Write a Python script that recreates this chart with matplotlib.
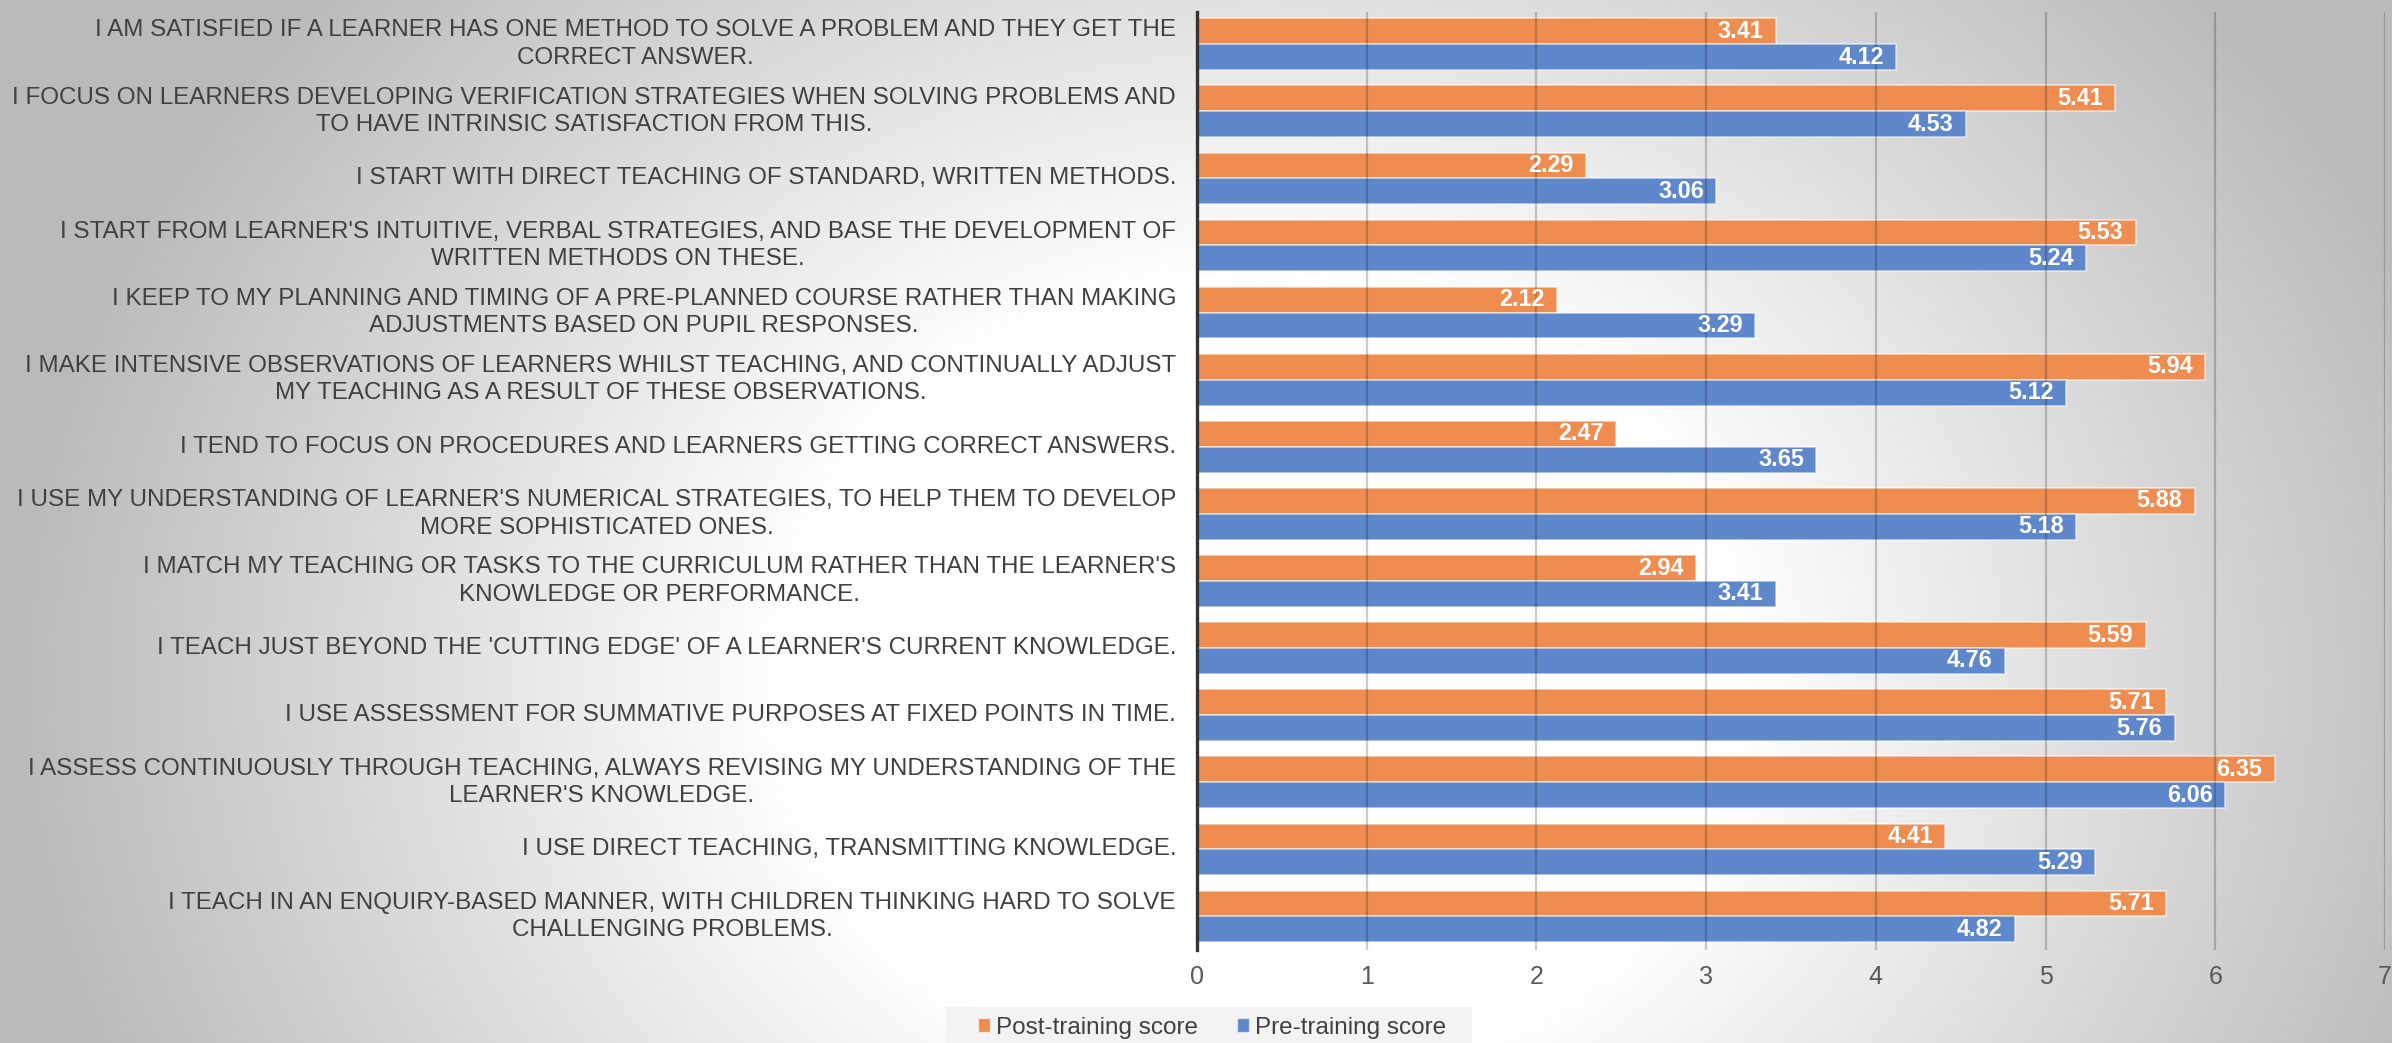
import matplotlib
matplotlib.use("Agg")
import matplotlib.pyplot as plt
import numpy as np
from matplotlib.patches import Patch, Rectangle
from matplotlib.transforms import blended_transform_factory

categories = [
    "I AM SATISFIED IF A LEARNER HAS ONE METHOD TO SOLVE A PROBLEM AND THEY GET THE\nCORRECT ANSWER.",
    "I FOCUS ON LEARNERS DEVELOPING VERIFICATION STRATEGIES WHEN SOLVING PROBLEMS AND\nTO HAVE INTRINSIC SATISFACTION FROM THIS.",
    "I START WITH DIRECT TEACHING OF STANDARD, WRITTEN METHODS.",
    "I START FROM LEARNER'S INTUITIVE, VERBAL STRATEGIES, AND BASE THE DEVELOPMENT OF\nWRITTEN METHODS ON THESE.",
    "I KEEP TO MY PLANNING AND TIMING OF A PRE-PLANNED COURSE RATHER THAN MAKING\nADJUSTMENTS BASED ON PUPIL RESPONSES.",
    "I MAKE INTENSIVE OBSERVATIONS OF LEARNERS WHILST TEACHING, AND CONTINUALLY ADJUST\nMY TEACHING AS A RESULT OF THESE OBSERVATIONS.",
    "I TEND TO FOCUS ON PROCEDURES AND LEARNERS GETTING CORRECT ANSWERS.",
    "I USE MY UNDERSTANDING OF LEARNER'S NUMERICAL STRATEGIES, TO HELP THEM TO DEVELOP\nMORE SOPHISTICATED ONES.",
    "I MATCH MY TEACHING OR TASKS TO THE CURRICULUM RATHER THAN THE LEARNER'S\nKNOWLEDGE OR PERFORMANCE.",
    "I TEACH JUST BEYOND THE 'CUTTING EDGE' OF A LEARNER'S CURRENT KNOWLEDGE.",
    "I USE ASSESSMENT FOR SUMMATIVE PURPOSES AT FIXED POINTS IN TIME.",
    "I ASSESS CONTINUOUSLY THROUGH TEACHING, ALWAYS REVISING MY UNDERSTANDING OF THE\nLEARNER'S KNOWLEDGE.",
    "I USE DIRECT TEACHING, TRANSMITTING KNOWLEDGE.",
    "I TEACH IN AN ENQUIRY-BASED MANNER, WITH CHILDREN THINKING HARD TO SOLVE\nCHALLENGING PROBLEMS.",
]
post_training = [3.41, 5.41, 2.29, 5.53, 2.12, 5.94, 2.47, 5.88, 2.94, 5.59, 5.71, 6.35, 4.41, 5.71]
pre_training = [4.12, 4.53, 3.06, 5.24, 3.29, 5.12, 3.65, 5.18, 3.41, 4.76, 5.76, 6.06, 5.29, 4.82]
series_names = ["Post-training score", "Pre-training score"]
x_ticks = [0, 1, 2, 3, 4, 5, 6, 7]

plt.rcParams['font.family'] = ['Liberation Sans', 'DejaVu Sans']

W, H = 2392, 1043
fig = plt.figure(figsize=(W / 100, H / 100), dpi=100)

# radial gradient background
bg = fig.add_axes([0, 0, 1, 1], zorder=-10)
yy, xx = np.mgrid[0:H, 0:W]
cx, cy = 1260, 680
t = np.sqrt(((xx - cx) / 1250.0) ** 2 + ((yy - cy) / 1050.0) ** 2)
r = np.clip((t - 0.38) / 0.62, 0, 1)
val = 1.0 - 0.27 * r
img = np.dstack([val, val, val])
bg.imshow(img, extent=[0, 1, 0, 1], aspect='auto', origin='upper')
bg.set_axis_off()
# legend background box
bg.add_patch(Rectangle((946 / W, 0), (1472 - 946) / W, (1043 - 1007) / H,
                       transform=bg.transAxes, facecolor='#F2F2F2', alpha=0.85,
                       edgecolor='none', zorder=2))

ax = fig.add_axes([1197 / W, 1 - 950 / H, (2385 - 1197) / W, (950 - 12) / H])
ax.set_facecolor('none')

orange = '#EE8D4F'
blue = '#5F87CC'
h = 0.385
y = np.arange(len(categories))
edge = (1, 1, 1, 0.55)
b1 = ax.barh(y - h / 2, post_training, height=h, color=orange,
             edgecolor=edge, linewidth=1.3, zorder=2)
b2 = ax.barh(y + h / 2, pre_training, height=h, color=blue,
             edgecolor=edge, linewidth=1.3, zorder=2)

for bars, vals in ((b1, post_training), (b2, pre_training)):
    for rect, v in zip(bars, vals):
        ax.annotate(f"{v:.2f}", xy=(v, rect.get_y() + rect.get_height() / 2),
                    xytext=(-9, 0), textcoords='offset points',
                    ha='right', va='center', color='white', fontsize=16.8,
                    fontweight='bold', zorder=4)

ax.set_xlim(0, 7)
ax.set_ylim(13.5, -0.48)
ax.set_xticks(x_ticks)
ax.set_xticklabels([str(v) for v in x_ticks])
ax.set_yticks(y)
ax.set_yticklabels([])
ax.tick_params(axis='y', length=0)
ax.tick_params(axis='x', length=0, pad=11, labelsize=18, labelcolor='#595959')

trans = blended_transform_factory(fig.transFigure, ax.transData)
for yi, lab in zip(y, categories):
    ax.text(1176 / W, yi, lab, transform=trans,
            ha='right', va='center', multialignment='center', fontsize=17.4,
            color='#404040', linespacing=1.32)

ax.grid(axis='x', color='black', alpha=0.2, linewidth=1.6, zorder=3)
ax.set_axisbelow(False)
for s in ['top', 'right', 'bottom']:
    ax.spines[s].set_visible(False)
ax.spines['left'].set_color('#333333')
ax.spines['left'].set_linewidth(2.4)
ax.spines['left'].set_zorder(5)

handles = [Patch(facecolor=orange, edgecolor=edge),
           Patch(facecolor=blue, edgecolor=edge)]
leg = fig.legend(handles, series_names, loc='center', bbox_to_anchor=(1212 / W, 1 - 1028 / H),
                 ncol=2, frameon=False, fontsize=17.5, handlelength=0.5, handleheight=0.5,
                 handletextpad=0.25, columnspacing=1.6, borderpad=0.3)
for t_ in leg.get_texts():
    t_.set_color('#404040')

fig.savefig('out.png', dpi=100)
